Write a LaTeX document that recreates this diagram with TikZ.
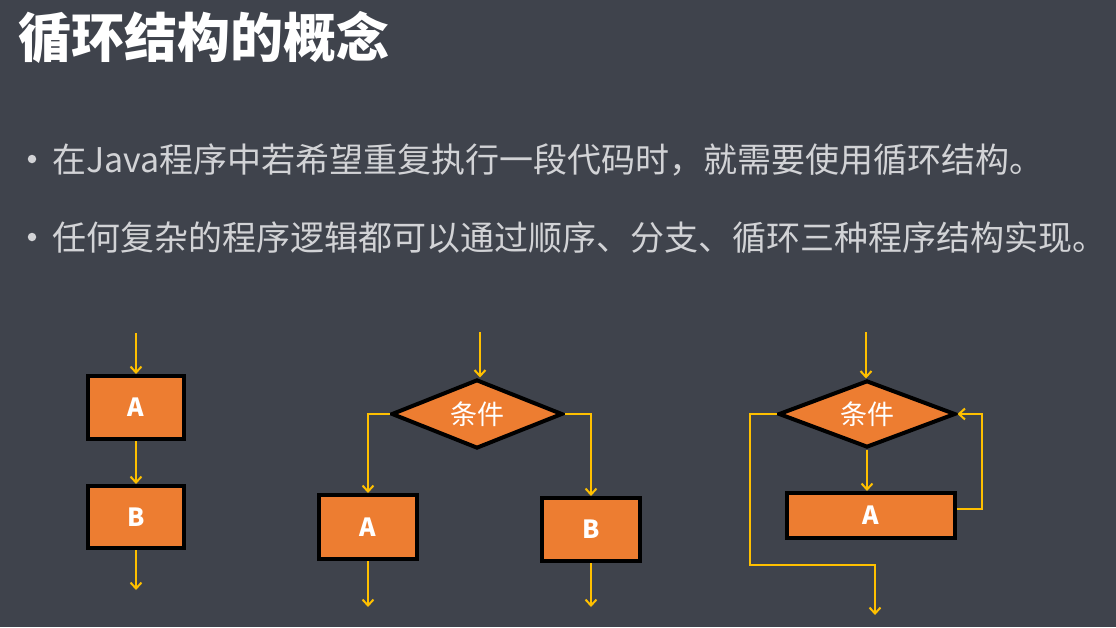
\documentclass[tikz,border=0pt]{standalone}
\usepackage{fontspec}
\setmainfont{Noto Sans CJK SC}
\newfontfamily\cjk{Noto Sans CJK SC}
\usetikzlibrary{shapes.geometric,arrows.meta}
\definecolor{bg}{HTML}{3F434C}
\definecolor{org}{HTML}{ED7D31}
\definecolor{ylw}{HTML}{FFC000}
\definecolor{txt}{HTML}{D2D3D6}
\tikzset{
  box/.style={rectangle,draw=black,line width=4pt,fill=org,inner sep=0pt,text=white,font=\cjk\bfseries\fontsize{25}{25}\selectfont},
  cond/.style={diamond,draw=black,line width=4pt,fill=org,inner sep=0pt,aspect=2.4,text=white,font=\cjk\fontsize{27}{27}\selectfont},
  arr/.style={draw=ylw,line width=2pt,-{Straight Barb[length=6pt,width=11pt]}},
  lbl/.style={anchor=west,text=txt,inner sep=0pt,font=\cjk\fontsize{34}{34}\selectfont},
  dot/.style={circle,fill=txt,inner sep=0pt,minimum size=8.5pt}
}
\begin{document}
\begin{tikzpicture}[x=1pt,y=-1pt]
\fill[bg] (0,0) rectangle (1116,627);
\useasboundingbox (0,0) rectangle (1116,627);
% title
\node[anchor=west,inner sep=0pt,text=white,font=\cjk\bfseries\fontsize{53}{53}\selectfont] (title) at (18,37) {循环结构的概念};
% bullets
\node[dot] (b1) at (32,159) {};
\node[lbl] (t1) at (52,160) {在Java程序中若希望重复执行一段代码时，就需要使用循环结构。};
\node[dot] (b2) at (32,237) {};
\node[lbl] (t2) at (52,238) {任何复杂的程序逻辑都可以通过顺序、分支、循环三种程序结构实现。};
% diagram 1: sequence
\coordinate (s1) at (136,333);
\node[box,minimum width=96pt,minimum height=63pt] (a1) at (136,407.5) {A};
\node[box,minimum width=96pt,minimum height=62pt] (b1box) at (136,517) {B};
\coordinate (e1) at (136,590);
\draw[arr] (s1) -- (a1.north);
\draw[arr] (a1.south) -- (b1box.north);
\draw[arr] (b1box.south) -- (e1);
% diagram 2: branch
\coordinate (s2) at (480,332);
\node[cond,minimum width=171pt,minimum height=69pt] (d2) at (477,414) {条件};
\node[box,minimum width=98pt,minimum height=64pt] (a2) at (368,527) {A};
\node[box,minimum width=98pt,minimum height=63pt] (b2box) at (591,529.5) {B};
\coordinate (e2a) at (368,607);
\coordinate (e2b) at (591,607);
\draw[arr] (s2) -- (s2 |- d2.north);
\draw[arr] (d2.west) -| (a2.north);
\draw[arr] (d2.east) -| (b2box.north);
\draw[arr] (a2.south) -- (e2a);
\draw[arr] (b2box.south) -- (e2b);
% diagram 3: loop
\coordinate (s3) at (866,332);
\node[cond,minimum width=177pt,minimum height=67pt] (d3) at (867,414) {条件};
\node[box,minimum width=168pt,minimum height=45pt] (a3) at (871,515.5) {A};
\coordinate (r3) at (982,509);
\coordinate (l3) at (750,565);
\coordinate (e3) at (875,615);
\draw[arr] (s3) -- (s3 |- d3.north);
\draw[arr] (d3.south) -- (d3.south |- a3.north);
\draw[arr] (a3.east |- r3) -- (r3) |- (d3.east);
\draw[arr] (d3.west) -| (l3) -| (e3);
\end{tikzpicture}
\end{document}
